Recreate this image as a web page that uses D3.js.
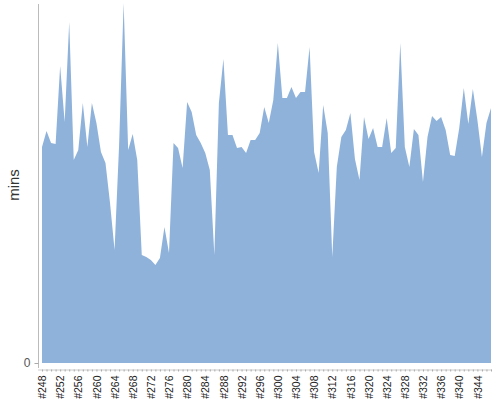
<!DOCTYPE html>
<html><head><meta charset="utf-8">
<script src="https://cdn.jsdelivr.net/npm/d3@7"></script>
<style>body{margin:0;background:#fff}svg{display:block}</style>
</head><body>
<svg id="c" width="500" height="400"></svg>
<script>
const categories = d3.range(248, 348).map(n => "#" + n);
const values = [
 216,232,220,219,297,241,341,203,213,260,216,260,240,211,200,160,113,218,360,213,229,203,108,106,103,98,105,136,110,220,
 215,195,261,251,228,220,210,193,108,260,304,228,228,215,216,210,223,223,230,256,240,263,320,265,265,276,265,271,271,316,
 211,190,258,230,106,196,226,233,250,204,183,246,224,235,216,216,245,210,215,320,216,196,234,228,181,226,247,242,246,233,
 208,207,235,275,239,274,243,206,240,255
];
const yTicks = [0];

const svg = d3.select("#c");
const x = d3.scalePoint().domain(categories).range([42, 491]);
const y = d3.scaleLinear().domain([0, 363]).range([363, 0]);
const data = categories.map((c, i) => ({c, v: values[i]}));

svg.append("path").datum(data)
  .attr("fill", "#8fb2db")
  .attr("d", d3.area().x(d => x(d.c)).y0(y(0)).y1(d => y(d.v)));

// y axis
svg.append("line").attr("x1", 38.5).attr("x2", 38.5).attr("y1", 4).attr("y2", 368)
  .attr("stroke", "#bbb");
const yAx = svg.append("g").attr("transform", "translate(38.5,0)")
  .call(d3.axisLeft(y).tickValues(yTicks).tickSize(4).tickPadding(4));
yAx.select(".domain").remove();
yAx.selectAll("line").attr("stroke", "#aaa");
yAx.selectAll("text").attr("fill", "#555").style("font-family", "Liberation Sans, Arial, sans-serif").style("font-size", "12px");

// x axis
const xAx = svg.append("g").attr("transform", "translate(0,369.5)")
  .call(d3.axisBottom(x).tickSize(2).tickPadding(4)
    .tickFormat((d, i) => i % 4 === 0 ? d : ""));
xAx.select(".domain").attr("stroke", "#ccc").attr("d", "M38,0.5H492");
xAx.selectAll("line").attr("stroke", "#aaa");
xAx.selectAll("text")
  .attr("transform", "rotate(-90)")
  .attr("text-anchor", "end")
  .attr("x", -6).attr("y", 0).attr("dy", "0.35em")
  .attr("fill", "#222")
  .style("font-family", "Liberation Sans, Arial, sans-serif").style("font-size", "10.5px");

svg.append("text").attr("transform", "translate(19,185) rotate(-90)")
  .attr("text-anchor", "middle")
  .attr("fill", "#333")
  .style("font-family", "Liberation Sans, Arial, sans-serif").style("font-size", "15px")
  .text("mins");
</script>
</body></html>
